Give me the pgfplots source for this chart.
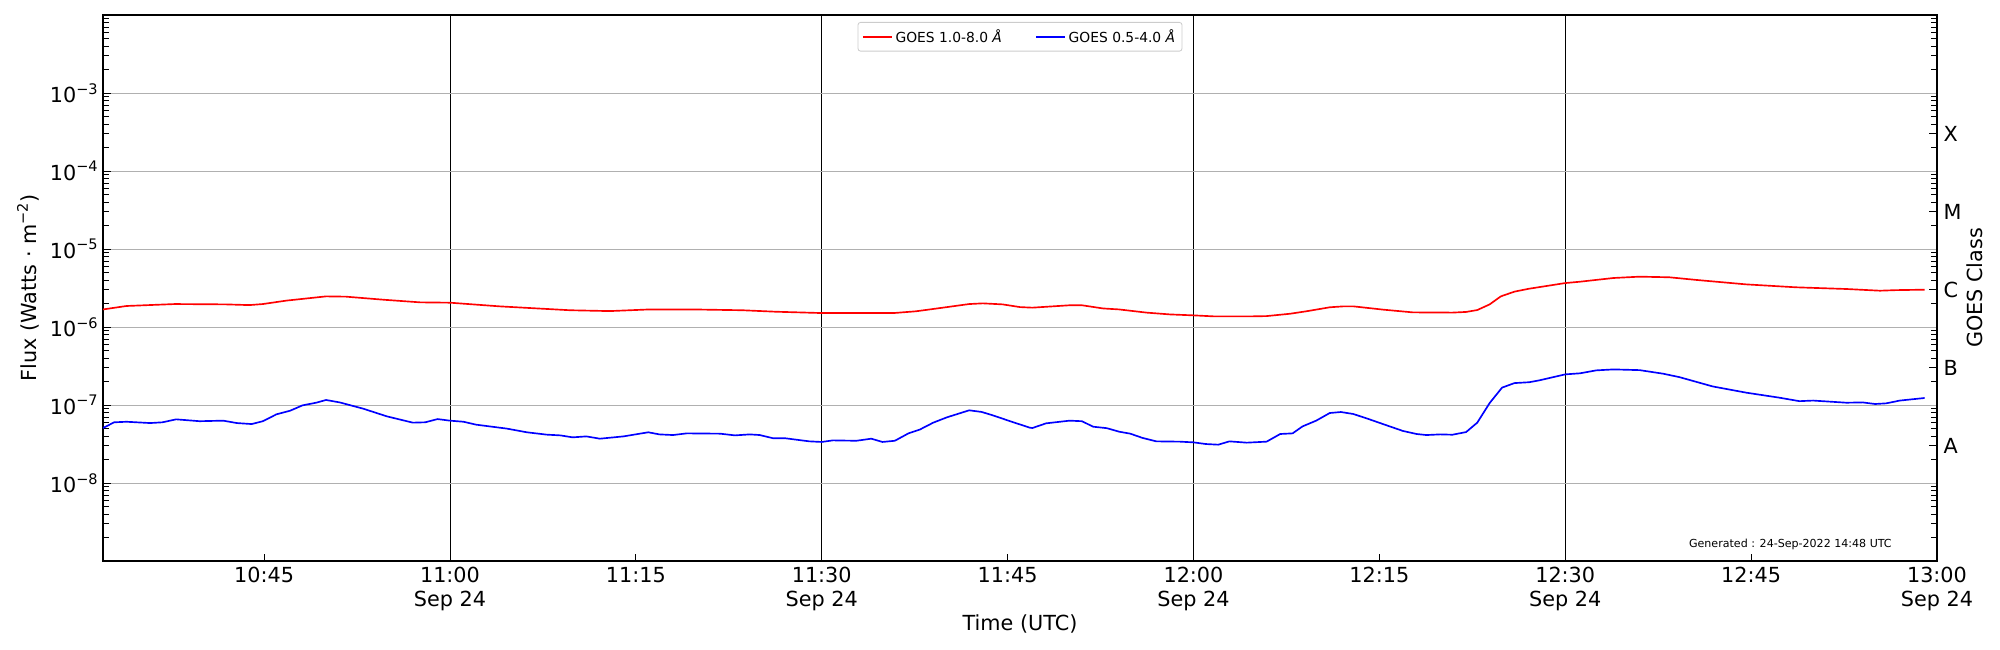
\documentclass[border=0pt]{standalone}
\usepackage{pgfplots}
\pgfplotsset{compat=1.18}
\usepackage{fontspec}
\setmainfont{DejaVu Sans}
\newcommand{\ep}[1]{10\raisebox{6bp}{\fontsize{10.5}{12}\selectfont −#1}}
\definecolor{gridgray}{rgb}{0.69,0.69,0.69}
\definecolor{leggray}{rgb}{0.8,0.8,0.8}

\pgfplotstableread{
x y
32.0 1.68e-6
33.9 1.86e-6
37.8 1.97e-6
41.9 1.95e-6
43.8 1.91e-6
44.9 1.97e-6
46.8 2.18e-6
50.0 2.47e-6
51.6 2.45e-6
54.6 2.24e-6
57.6 2.07e-6
60.0 2.05e-6
64.0 1.84e-6
69.7 1.64e-6
72.9 1.60e-6
76.1 1.68e-6
79.6 1.68e-6
83.6 1.64e-6
86.3 1.57e-6
90.0 1.51e-6
95.8 1.51e-6
97.6 1.59e-6
99.2 1.72e-6
101.9 1.97e-6
103.0 2.01e-6
104.6 1.95e-6
106.0 1.80e-6
107.0 1.77e-6
110.0 1.90e-6
111.0 1.90e-6
112.7 1.73e-6
114.0 1.68e-6
116.2 1.53e-6
118.1 1.45e-6
120.0 1.41e-6
121.6 1.37e-6
124.8 1.37e-6
125.9 1.38e-6
127.8 1.48e-6
129.1 1.59e-6
131.0 1.79e-6
132.1 1.84e-6
132.9 1.84e-6
135.3 1.67e-6
137.7 1.54e-6
140.9 1.53e-6
142.0 1.56e-6
142.9 1.65e-6
143.9 1.95e-6
144.8 2.47e-6
145.9 2.84e-6
147.1 3.10e-6
150.0 3.66e-6
151.2 3.81e-6
153.9 4.25e-6
156.0 4.42e-6
158.4 4.34e-6
160.6 4.01e-6
164.6 3.52e-6
168.6 3.23e-6
172.7 3.07e-6
175.4 2.92e-6
176.7 2.97e-6
179.0 3.01e-6
}\longdata

\pgfplotstableread{
x y
32.0 5.07e-8
32.9 6.00e-8
33.9 6.10e-8
35.8 5.87e-8
36.8 6.00e-8
37.9 6.55e-8
39.8 6.20e-8
41.7 6.30e-8
42.8 5.87e-8
44.0 5.70e-8
44.9 6.20e-8
46.0 7.60e-8
47.1 8.45e-8
48.1 9.90e-8
49.2 1.07e-7
50.0 1.16e-7
51.1 1.08e-7
53.0 8.97e-8
54.9 7.16e-8
57.0 5.94e-8
58.0 6.00e-8
59.0 6.60e-8
60.0 6.30e-8
61.1 6.10e-8
62.1 5.60e-8
64.6 4.98e-8
66.2 4.47e-8
67.8 4.17e-8
68.9 4.08e-8
69.9 3.85e-8
71.0 3.96e-8
72.1 3.70e-8
74.0 3.96e-8
76.0 4.47e-8
76.9 4.20e-8
78.0 4.12e-8
79.1 4.33e-8
81.8 4.29e-8
83.0 4.08e-8
84.2 4.20e-8
85.0 4.12e-8
86.1 3.74e-8
87.1 3.74e-8
89.0 3.42e-8
90.0 3.36e-8
90.9 3.52e-8
92.8 3.48e-8
94.0 3.70e-8
94.9 3.36e-8
95.9 3.48e-8
97.0 4.33e-8
97.9 4.83e-8
99.0 5.94e-8
100.1 6.95e-8
101.9 8.55e-8
102.9 8.15e-8
103.8 7.38e-8
105.4 6.05e-8
106.8 5.12e-8
107.0 5.07e-8
108.1 5.82e-8
110.0 6.30e-8
111.0 6.20e-8
111.9 5.27e-8
113.0 5.05e-8
114.0 4.55e-8
114.9 4.29e-8
115.9 3.78e-8
117.0 3.42e-8
118.9 3.39e-8
120.0 3.32e-8
121.0 3.16e-8
122.0 3.10e-8
122.9 3.42e-8
124.3 3.29e-8
125.9 3.39e-8
127.0 4.25e-8
128.0 4.33e-8
128.8 5.32e-8
129.9 6.30e-8
131.0 7.90e-8
131.9 8.13e-8
132.9 7.67e-8
134.2 6.55e-8
135.6 5.48e-8
136.9 4.65e-8
138.0 4.25e-8
138.8 4.12e-8
139.9 4.20e-8
140.9 4.16e-8
142.0 4.50e-8
142.9 5.94e-8
143.9 1.06e-7
144.9 1.67e-7
145.9 1.91e-7
147.1 1.96e-7
147.9 2.07e-7
150.0 2.47e-7
151.2 2.55e-7
152.5 2.78e-7
153.9 2.86e-7
156.0 2.80e-7
157.9 2.52e-7
159.2 2.28e-7
161.9 1.73e-7
164.6 1.44e-7
167.3 1.24e-7
168.9 1.12e-7
170.0 1.14e-7
172.7 1.07e-7
174.0 1.08e-7
175.0 1.03e-7
175.9 1.05e-7
177.0 1.14e-7
179.0 1.23e-7
}\shortdata

\begin{document}
\begin{tikzpicture}
\useasboundingbox (-74.16bp,-64.08bp) rectangle (1365.84bp,403.92bp);
\begin{axis}[
  width=1320.48bp, height=393.12bp, scale only axis,
  at={(0,0)}, anchor=south west,
  xmin=32, xmax=180, ymode=log, ymin=1e-9, ymax=1e-2,
  tick align=inside,
  major tick length=6bp, minor tick length=4bp,
  every tick/.style={black, line width=0.6bp},
  every minor tick/.style={black, line width=0.5bp},
  axis line style={line width=0.8bp},
  tick label style={font=\fontsize{15}{17}\selectfont},
  minor ytick={2e-9,3e-9,4e-9,5e-9,6e-9,7e-9,8e-9,9e-9,2e-8,3e-8,4e-8,5e-8,6e-8,7e-8,8e-8,9e-8,2e-7,3e-7,4e-7,5e-7,6e-7,7e-7,8e-7,9e-7,2e-6,3e-6,4e-6,5e-6,6e-6,7e-6,8e-6,9e-6,2e-5,3e-5,4e-5,5e-5,6e-5,7e-5,8e-5,9e-5,2e-4,3e-4,4e-4,5e-4,6e-4,7e-4,8e-4,9e-4,2e-3,3e-3,4e-3,5e-3,6e-3,7e-3,8e-3,9e-3},
  ytick pos=left, xtick pos=bottom,
  ytick={1e-8,1e-7,1e-6,1e-5,1e-4,1e-3},
  yticklabels={\ep{8},\ep{7},\ep{6},\ep{5},\ep{4},\ep{3}},
  yticklabel style={inner sep=0pt, xshift=-3.6bp},
  xtick={60,90,120,150,180},
  xticklabels={{11:00\\Sep 24},{11:30\\Sep 24},{12:00\\Sep 24},{12:30\\Sep 24},{13:00\\Sep 24}},
  xticklabel style={align=center, anchor=north, inner sep=0pt, yshift=-4.5bp},
  extra x ticks={45,75,105,135,165},
  extra x tick labels={10:45,11:15,11:45,12:15,12:45},
  extra x tick style={grid=none, major tick length=5bp},
  ymajorgrids, xmajorgrids,
  y grid style={gridgray, line width=0.7bp},
  x grid style={black, line width=0.6bp},
  xlabel={Time (UTC)},
  ylabel={Flux (Watts · m\raisebox{6bp}{\fontsize{10.5}{12}\selectfont −2})},
  every axis x label/.style={at={(rel axis cs:0.5,0)}, yshift=-45.5bp, anchor=center, font=\fontsize{15}{17}\selectfont},
  every axis y label/.style={at={(rel axis cs:0,0.5)}, xshift=-54bp, rotate=90, anchor=center, font=\fontsize{15}{17}\selectfont},
  legend columns=2,
  legend style={at={(rel axis cs:0.5,1)}, anchor=north, yshift=-5bp,
    draw=leggray, rounded corners=2bp, line width=0.6bp, fill=white,
    font=\fontsize{10}{12}\selectfont, inner xsep=3bp, inner ysep=3bp,
    /tikz/every even column/.append style={column sep=22bp}},
  legend image code/.code={\draw[#1, line width=1.2bp] (0bp,0bp) -- (20.9bp,0bp);},
]
\addplot[red, line width=1.2bp] table[x=x, y=y] {\longdata};
\addlegendentry{GOES 1.0-8.0 {\itshape Å}}
\addplot[blue, line width=1.2bp] table[x=x, y=y] {\shortdata};
\addlegendentry{GOES 0.5-4.0 {\itshape Å}}
\node[anchor=base east, inner sep=0pt, font=\fontsize{8}{10}\selectfont] at (rel axis cs:1,0) [xshift=-32.4bp, yshift=9.4bp] {Generated : 24-Sep-2022 14:48 UTC};
\end{axis}
\begin{axis}[
  width=1320.48bp, height=393.12bp, scale only axis,
  at={(0,0)}, anchor=south west,
  xmin=32, xmax=180, ymode=log, ymin=1e-9, ymax=1e-2,
  tick align=inside,
  major tick length=6bp, minor tick length=4bp,
  every tick/.style={black, line width=0.6bp},
  every minor tick/.style={black, line width=0.5bp},
  axis line style={line width=0.8bp},
  tick label style={font=\fontsize{15}{17}\selectfont},
  minor ytick={2e-9,3e-9,4e-9,5e-9,6e-9,7e-9,8e-9,9e-9,2e-8,3e-8,4e-8,5e-8,6e-8,7e-8,8e-8,9e-8,2e-7,3e-7,4e-7,5e-7,6e-7,7e-7,8e-7,9e-7,2e-6,3e-6,4e-6,5e-6,6e-6,7e-6,8e-6,9e-6,2e-5,3e-5,4e-5,5e-5,6e-5,7e-5,8e-5,9e-5,2e-4,3e-4,4e-4,5e-4,6e-4,7e-4,8e-4,9e-4,2e-3,3e-3,4e-3,5e-3,6e-3,7e-3,8e-3,9e-3},
  axis y line*=right, axis x line=none,
  ytick={3e-8,3e-7,3e-6,3e-5,3e-4},
  yticklabels={A,B,C,M,X},
  yticklabel style={inner sep=0pt, xshift=4.5bp, anchor=west},
  ylabel={GOES Class},
  every axis y label/.style={at={(rel axis cs:1,0.5)}, xshift=27bp, rotate=90, anchor=center, font=\fontsize{15}{17}\selectfont},
]
\addplot[draw=none, forget plot] table[x=x, y=y] {\longdata};
\end{axis}
\end{tikzpicture}
\end{document}
